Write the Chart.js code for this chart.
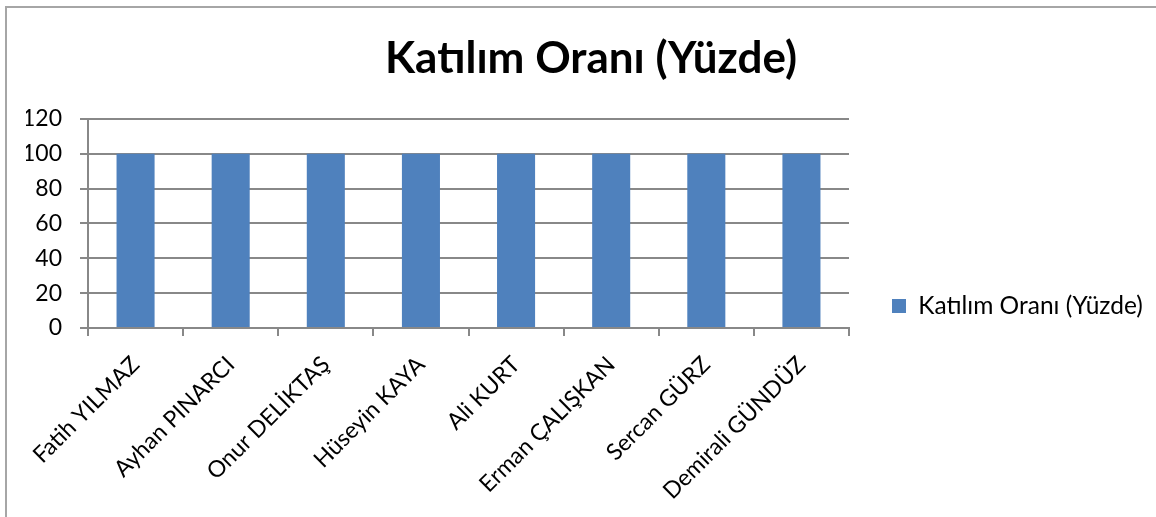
<!DOCTYPE html>
<html>
<head>
<meta charset="utf-8">
<script src="https://cdn.jsdelivr.net/npm/chart.js@4"></script>
<style>
  html, body { margin: 0; padding: 0; background: #fff; }
  #wrap { position: relative; width: 1156px; height: 517px; overflow: hidden; }
  #frame { position: absolute; left: 5px; top: 6px; width: 1170px; height: 530px; border: 2px solid #a6a6a6; box-sizing: border-box; }
  canvas { position: absolute; left: 0; top: 0; }
</style>
</head>
<body>
<div id="wrap">
  <div id="frame"></div>
  <canvas id="chart" width="1156" height="517"></canvas>
</div>
<script>
// chart data
const names = ['Fatih YILMAZ', 'Ayhan PINARCI', 'Onur DELİKTAŞ', 'Hüseyin KAYA', 'Ali KURT', 'Erman ÇALIŞKAN', 'Sercan GÜRZ', 'Demirali GÜNDÜZ'];
const rates = [100, 100, 100, 100, 100, 100, 100, 100];
const seriesName = 'Katılım Oranı (Yüzde)';
const chartTitle = 'Katılım Oranı (Yüzde)';

const gridGray = '#888888';
const LEGEND_WIDTH = 307;

// force the legend column width so the plot ends where the original did
const legendWidthFix = {
  id: 'legendWidthFix',
  beforeLayout(chart) {
    const lg = chart.legend;
    if (lg && !lg._widthFixed) {
      const origFit = lg.fit.bind(lg);
      lg.fit = function () { origFit(); this.width = LEGEND_WIDTH; };
      lg._widthFixed = true;
    }
  }
};

document.addEventListener('DOMContentLoaded', () => {
  const ctx = document.getElementById('chart');
  new Chart(ctx, {
    type: 'bar',
    data: {
      labels: names,
      datasets: [{
        label: seriesName,
        data: rates,
        backgroundColor: '#4F81BD',
        borderWidth: 0,
        categoryPercentage: 1,
        barPercentage: 0.4
      }]
    },
    plugins: [legendWidthFix],
    options: {
      responsive: false,
      animation: false,
      // negative bottom padding pushes the legend's vertical centre down
      layout: { padding: { left: 26, right: 0, top: 0, bottom: -95 } },
      plugins: {
        title: {
          display: true,
          text: chartTitle,
          color: '#000',
          font: { family: 'Lato', size: 44, weight: 'bold' },
          padding: { top: 32, bottom: 34 }
        },
        legend: {
          position: 'right',
          labels: {
            color: '#000',
            font: { family: 'Lato', size: 24.5 },
            boxWidth: 14,
            boxHeight: 14,
            padding: 43
          }
        },
        tooltip: { enabled: false }
      },
      scales: {
        x: {
          afterFit: (scale) => { scale.height = 284; },
          grid: { display: true, drawOnChartArea: false, color: gridGray, lineWidth: 2, tickLength: 8, offset: true },
          border: { color: gridGray, width: 2 },
          ticks: {
            color: '#000',
            font: { family: 'Lato', size: 23 },
            minRotation: 45,
            maxRotation: 45,
            autoSkip: false,
            padding: 15
          }
        },
        y: {
          min: 0,
          max: 120,
          afterFit: (scale) => { scale.width = 62; },
          grid: { color: gridGray, lineWidth: 2, tickLength: 8 },
          border: { color: gridGray, width: 2 },
          ticks: {
            stepSize: 20,
            color: '#000',
            font: { family: 'Lato', size: 23 },
            padding: 18
          }
        }
      }
    }
  });
});
</script>
</body>
</html>
